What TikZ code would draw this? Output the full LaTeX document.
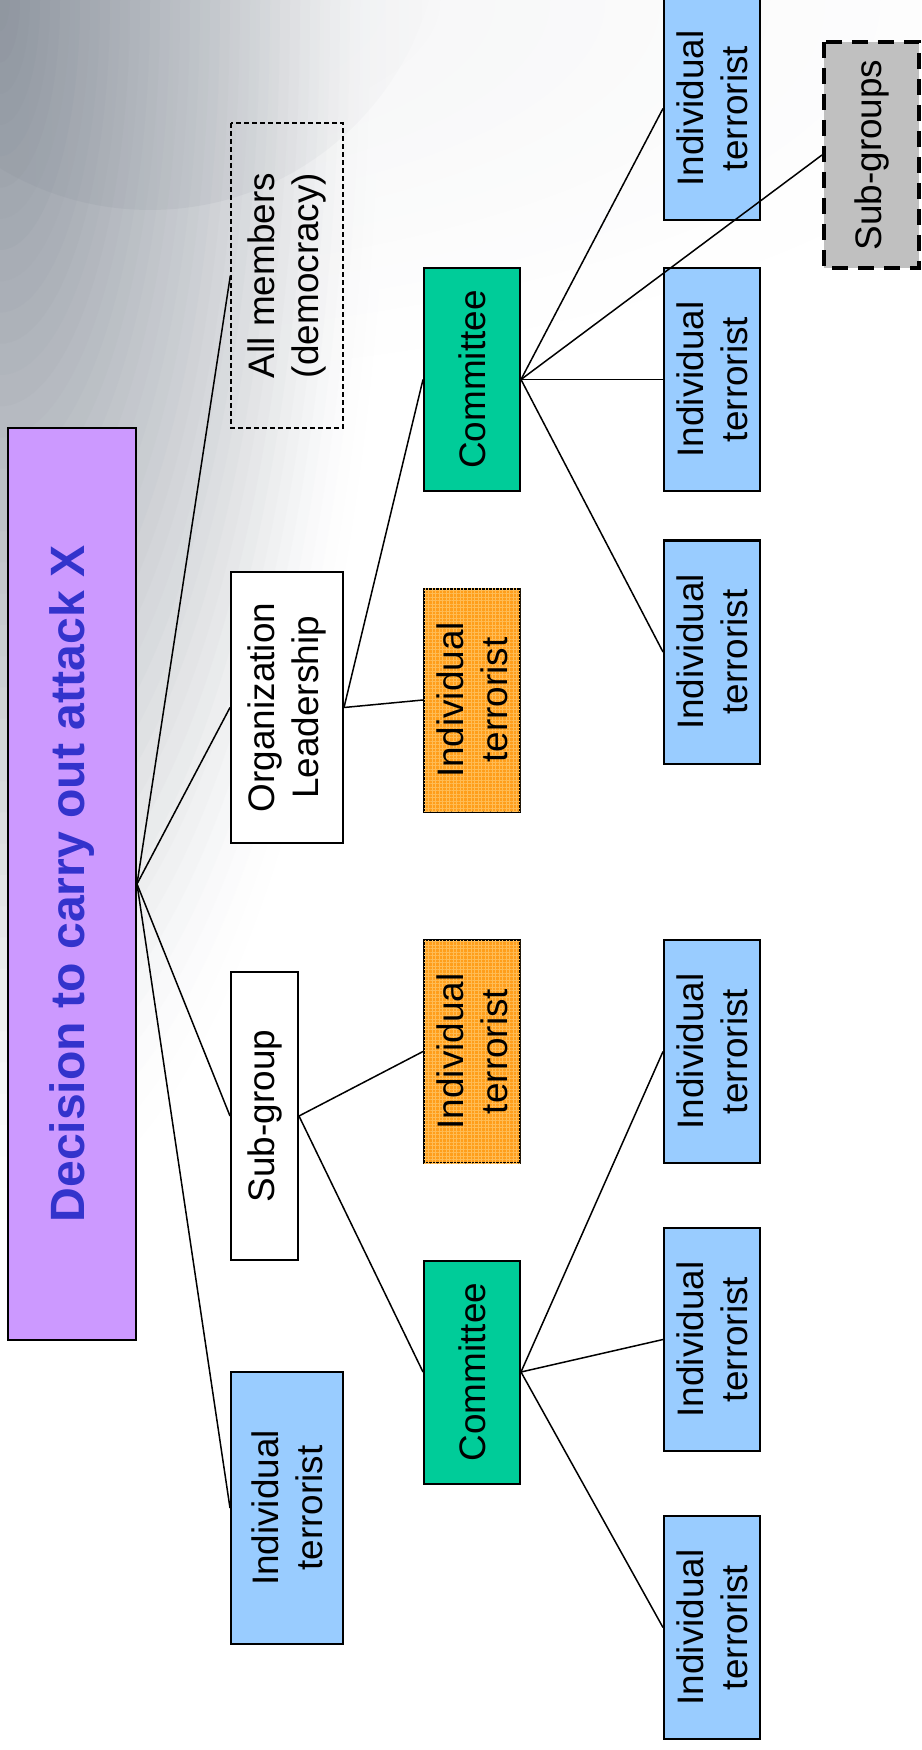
\documentclass[tikz,border=0pt]{standalone}
\usepackage{fontspec}
\setmainfont{Liberation Sans}
\usetikzlibrary{patterns.meta, fadings}
\definecolor{rootfill}{HTML}{CC99FF}
\definecolor{roottext}{HTML}{3333CC}
\definecolor{comgreen}{HTML}{00CC99}
\definecolor{itblue}{HTML}{99CCFF}
\definecolor{orfill}{HTML}{FF9E1B}
\definecolor{orgrid}{HTML}{FFBC55}
\definecolor{sggray}{HTML}{C0C0C0}
\definecolor{bgA}{HTML}{8E959F}
\newcommand{\boxfont}{\fontsize{10.5}{12.5}\selectfont}
\newcommand{\rootfont}{\fontsize{13.7}{16}\selectfont\bfseries}
\tikzfading[name=fade right, left color=transparent!0, right color=transparent!100]
\tikzset{
  % all boxes lie on their side, text reads upwards
  box/.style={rectangle, draw=black, line width=0.02cm, rotate=90,
              inner sep=0pt, align=center, font=\boxfont,
              minimum width=2.23cm, minimum height=0.96cm},
  rootbox/.style={box, fill=rootfill, text=roottext, font=\rootfont,
                  minimum width=9.12cm, minimum height=1.28cm},
  lvlone/.style={minimum height=1.12cm},
  plainbox/.style={box, fill=white, lvlone},
  dashbox/.style={box, dashed, line width=0.013cm,
                  dash pattern=on 0.05cm off 0.03cm, lvlone},
  itbox/.style={box, fill=itblue},
  combox/.style={box, fill=comgreen},
  orbox/.style={box, fill=orfill,
                postaction={pattern={Hatch[angle=0, distance=1pt, line width=0.25pt]},
                            pattern color=orgrid}},
  sgbox/.style={box, fill=sggray, line width=0.04cm,
                dash pattern=on 0.16cm off 0.1cm,
                minimum width=2.26cm, minimum height=0.95cm},
  link/.style={draw=black, line width=0.015cm},
}

\begin{document}
\begin{tikzpicture}[font=\boxfont]

% ── Slide background ─────────────────────────────────────────────────────────
\useasboundingbox (0,0) rectangle (9.21,-17.5);
\begin{scope}
  \clip (0,0) rectangle (9.21,-17.5);
  \fill[white] (0,0) rectangle (9.21,-17.5);
  % faint band along the top
  \foreach \i in {20,19,...,1}{
    \pgfmathsetmacro\p{12*(1-\i/20)}
    \fill[bgA!\p!white] (0,0) ellipse ({11*\i/20} and {4*\i/20});
  }
  % glow from the top left corner
  \foreach \i in {40,39,...,1}{
    \pgfmathsetmacro\p{100*(1-\i/40)}
    \fill[bgA!\p!white, opacity={min(1,1.6*(1-\i/40)+0.05)}]
      (0,0) ellipse ({4*\i/40} and {12.5*\i/40});
  }
  % sphere in the corner
  \fill[bgA, opacity=0.3, path fading=fade right] (1.5,0.8) circle (2.9);
\end{scope}

% ── Root ─────────────────────────────────────────────────────────────────────
\node[rootbox] (root) at (0.72,-8.84) {Decision to carry out attack X};

% ── Level 1 ──────────────────────────────────────────────────────────────────
\node[dashbox, minimum width=3.05cm] (allmem)  at (2.87,-2.755)
  {All members\\(democracy)};
\node[plainbox, minimum width=2.71cm] (orglead) at (2.87,-7.075)
  {Organization\\Leadership};
\node[plainbox, minimum width=2.88cm, minimum height=0.67cm] (subgrp)
  at (2.645,-11.16) {Sub-group};
\node[itbox, lvlone, minimum width=2.72cm] (itA) at (2.87,-15.08)
  {Individual\\terrorist};

% ── Level 2 ──────────────────────────────────────────────────────────────────
\node[combox] (comA) at (4.72,-3.795)  {Committee};
\node[orbox]  (orA)  at (4.72,-7.00)   {Individual\\terrorist};
\node[orbox]  (orB)  at (4.72,-10.515) {Individual\\terrorist};
\node[combox] (comB) at (4.72,-13.72)  {Committee};

% ── Level 3 ──────────────────────────────────────────────────────────────────
\node[itbox] (itB) at (7.12,-1.085)  {Individual\\terrorist};
\node[itbox] (itC) at (7.12,-3.795)  {Individual\\terrorist};
\node[itbox] (itD) at (7.12,-6.52)   {Individual\\terrorist};
\node[itbox] (itE) at (7.12,-10.515) {Individual\\terrorist};
\node[itbox] (itF) at (7.12,-13.395) {Individual\\terrorist};
\node[itbox] (itG) at (7.12,-16.275) {Individual\\terrorist};

\node[sgbox] (subgrps) at (8.715,-1.55) {Sub-groups};

% ── Connectors ───────────────────────────────────────────────────────────────
\draw[link] (root.south) -- (allmem.north);
\draw[link] (root.south) -- (orglead.north);
\draw[link] (root.south) -- (subgrp.north);
\draw[link] (root.south) -- (itA.north);

\draw[link] (orglead.south) -- (comA.north);
\draw[link] (orglead.south) -- (orA.north);
\draw[link] (subgrp.south)  -- (orB.north);
\draw[link] (subgrp.south)  -- (comB.north);

\draw[link] (comA.south) -- (itB.north);
\draw[link] (comA.south) -- (itC.north);
\draw[link] (comA.south) -- (itD.north);
\draw[link] (comA.south) -- (subgrps.north);

\draw[link] (comB.south) -- (itE.north);
\draw[link] (comB.south) -- (itF.north);
\draw[link] (comB.south) -- (itG.north);

\end{tikzpicture}
\end{document}
